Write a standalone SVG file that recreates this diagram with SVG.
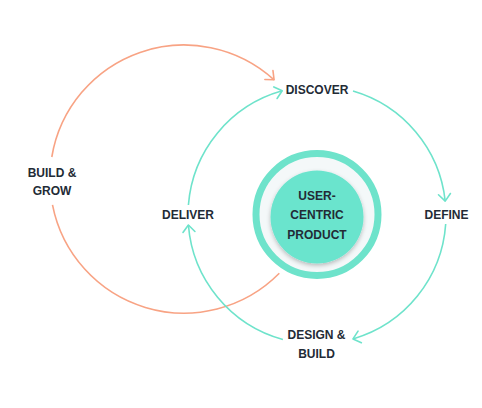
<svg xmlns="http://www.w3.org/2000/svg" width="482" height="408" viewBox="0 0 482 408">
<style>
.lbl{font-family:"Liberation Sans",Arial,sans-serif;font-weight:bold;font-size:12px;fill:#232b36;text-anchor:middle}
.teal{fill:none;stroke:#6ee3cb;stroke-width:1.6}
.orange{fill:none;stroke:#f8a384;stroke-width:1.6}
</style>
<defs>
<marker id="at" markerUnits="userSpaceOnUse" markerWidth="20" markerHeight="20" refX="10" refY="10" orient="auto" overflow="visible">
<path d="M3,4 L10,10 L3,16" fill="none" stroke="#6ee3cb" stroke-width="1.6" stroke-linecap="round" stroke-linejoin="round"/>
</marker>
<marker id="ao" markerUnits="userSpaceOnUse" markerWidth="20" markerHeight="20" refX="10" refY="10" orient="auto" overflow="visible">
<path d="M3,4 L10,10 L3,16" fill="none" stroke="#f8a384" stroke-width="1.6" stroke-linecap="round" stroke-linejoin="round"/>
</marker>
<filter id="sh" x="-30%" y="-30%" width="160%" height="160%">
<feDropShadow dx="0" dy="2" stdDeviation="2" flood-color="#000" flood-opacity="0.25"/>
</filter>
</defs>
<rect width="482" height="408" fill="#fff"/>
<g id="connectors">
<path class="orange" d="M279.3,273.3 A134,134 0 0 1 52.5,204.9"/>
<path class="orange" d="M51.8,157 A134,134 0 0 1 274.1,79.8" marker-end="url(#ao)"/>
<path class="teal" d="M353,91.1 A129,129 0 0 1 445.2,201.1" marker-end="url(#at)"/>
<path class="teal" d="M445.7,224 A129,129 0 0 1 353,338.9" marker-end="url(#at)"/>
<path class="teal" d="M282.9,339.4 A129,129 0 0 1 188.4,225" marker-end="url(#at)"/>
<path class="teal" d="M188.4,205 A129,129 0 0 1 282.2,90.8" marker-end="url(#at)"/>
</g>
<g id="center">
<circle cx="317" cy="214.5" r="61" fill="#f4f8f9" stroke="#6ee3cb" stroke-width="7"/>
<circle cx="317" cy="217" r="46.5" fill="#6ae4cd" filter="url(#sh)"/>
<text class="lbl" x="317" y="200.3">USER-</text>
<text class="lbl" x="317" y="219.3">CENTRIC</text>
<text class="lbl" x="317" y="238.6">PRODUCT</text>
</g>
<g id="discover"><text class="lbl" x="317" y="93.6">DISCOVER</text></g>
<g id="define"><text class="lbl" x="446.5" y="219.3">DEFINE</text></g>
<g id="design-build"><text class="lbl" x="316.5" y="338.6">DESIGN &amp;</text><text class="lbl" x="316.5" y="357.6">BUILD</text></g>
<g id="deliver"><text class="lbl" x="188" y="219.3">DELIVER</text></g>
<g id="build-grow"><text class="lbl" x="52" y="176.6">BUILD &amp;</text><text class="lbl" x="52" y="195">GROW</text></g>
</svg>
